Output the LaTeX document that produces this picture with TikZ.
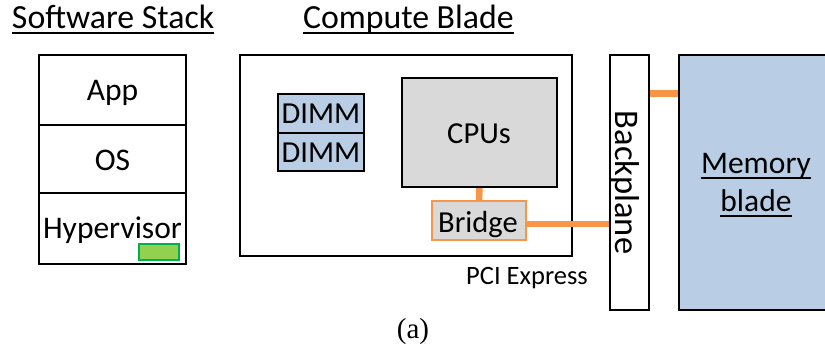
\documentclass[tikz,border=0pt]{standalone}
\usepackage{fontspec}
\setmainfont{Carlito}
\newfontfamily\timesf{Liberation Serif}
\usetikzlibrary{calc}
\definecolor{dimmblue}{HTML}{B9CDE5}
\definecolor{cpugray}{HTML}{D9D9D9}
\definecolor{pcieorange}{HTML}{F79646}
\definecolor{hvgreen}{HTML}{92D050}
\definecolor{hvgreenline}{HTML}{00B050}
\tikzset{
  bx/.style={draw=black, line width=2.2pt, inner sep=0pt, outer sep=0pt},
  lbl/.style={inner sep=0pt, outer sep=0pt, anchor=base, font=\fontsize{31.5}{31.5}\selectfont},
  ttl/.style={inner sep=0pt, outer sep=0pt, anchor=base west, font=\fontsize{33.8}{33.8}\selectfont},
  conn/.style={draw=pcieorange, line width=6.5pt},
  uline/.style={line width=1.8pt},
}
\begin{document}
\begin{tikzpicture}[x=1pt, y=-1pt]
\useasboundingbox (0,0) rectangle (825,351);

% titles
\node[ttl] (t1) at (12,28) {Software Stack};
\node[ttl] (t2) at (303,28) {Compute Blade};
\draw[uline] ([yshift=-5pt]t1.base west) -- ([yshift=-5pt]t1.base east);
\draw[uline] ([yshift=-5pt]t2.base west) -- ([yshift=-5pt]t2.base east);

% software stack
\node[bx, minimum width=147pt, minimum height=70pt] (app) at (112.5,90) {};
\node[bx, minimum width=147pt, minimum height=68pt] (os) at (112.5,159) {};
\node[bx, minimum width=147pt, minimum height=71pt] (hyp) at (112.5,228.5) {};
\node[lbl] (appt) at (112.5,100) {App};
\node[lbl] (ost) at (112.5,170) {OS};
\node[lbl] (hypt) at (112.5,238) {Hypervisor};
\node[draw=hvgreenline, fill=hvgreen, line width=1.6pt, inner sep=0pt, minimum width=40pt, minimum height=16pt] (hvg) at (159,252) {};

% compute blade
\node[bx, minimum width=332pt, minimum height=201pt] (cb) at (406,155.5) {};
\node[bx, fill=dimmblue, minimum width=86pt, minimum height=39pt] (d1) at (321,113.5) {};
\node[bx, fill=dimmblue, minimum width=86pt, minimum height=38pt] (d2) at (321,152) {};
\node[lbl, font=\fontsize{30.5}{30.5}\selectfont] (d1t) at (321,123) {DIMM};
\node[lbl, font=\fontsize{30.5}{30.5}\selectfont] (d2t) at (321,162) {DIMM};
\node[bx, fill=cpugray, minimum width=155pt, minimum height=109pt] (cpu) at (479.5,132.5) {};
\node[lbl, font=\fontsize{30.5}{30.5}\selectfont] (cput) at (479,143) {CPUs};
\node[draw=pcieorange, fill=cpugray, line width=2pt, inner sep=0pt, outer sep=0pt, minimum width=94pt, minimum height=39pt] (bridge) at (479,220.5) {};
\node[lbl, font=\fontsize{30.5}{30.5}\selectfont] (bridget) at (478,232) {Bridge};
\node[lbl, font=\fontsize{26.5}{26.5}\selectfont] (pcie) at (527,284) {PCI Express};

% backplane and memory blade
\node[bx, minimum width=39pt, minimum height=255pt] (bp) at (629.5,182.5) {};
\node[lbl, rotate=-90, font=\fontsize{34.5}{34.5}\selectfont] (bpt) at (615.5,182.5) {Backplane};
\node[bx, fill=dimmblue, minimum width=151pt, minimum height=255pt] (mem) at (754.5,182.5) {};
\node[lbl] (m1) at (756,173) {Memory};
\node[lbl] (m2) at (756,211) {blade};
\draw[uline] ([yshift=-5pt]m1.base west) -- ([yshift=-5pt]m1.base east);
\draw[uline] ([yshift=-5pt]m2.base west) -- ([yshift=-5pt]m2.base east);

% connectors
\draw[conn, shorten <=1.1pt] (cpu.south) -- (bridge.north);
\draw[conn, shorten >=1.1pt] ([yshift=-3.5pt]bridge.east) -- ([yshift=-3.5pt]bridge.east -| bp.west);
\draw[conn, shorten <=1.1pt, shorten >=1.1pt] ($(bp.north east)+(0,38.5)$) -- ($(mem.north west)+(0,38.5)$);

% caption
\node[inner sep=0pt, anchor=base, font=\timesf\fontsize{29}{29}\selectfont] (cap) at (413,338) {(a)};
\end{tikzpicture}
\end{document}
